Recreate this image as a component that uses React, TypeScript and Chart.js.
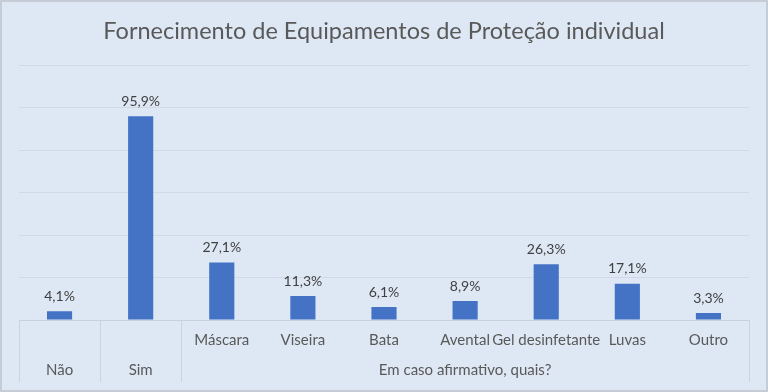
import React, { useEffect, useRef } from "react";
import { Chart, registerables } from "chart.js";

Chart.register(...registerables);

const titleText = "Fornecimento de Equipamentos de Proteção individual";
const categories = ["Não", "Sim", "Máscara", "Viseira", "Bata", "Avental", "Gel desinfetante", "Luvas", "Outro"];
const values = [4.1, 95.9, 27.1, 11.3, 6.1, 8.9, 26.3, 17.1, 3.3];
const subLabels = ["", "", "Máscara", "Viseira", "Bata", "Avental", "Gel desinfetante", "Luvas", "Outro"];
const groupLabels = ["Não", "Sim", "", "", "", "Em caso afirmativo, quais?", "", "", ""];
const groupBoundaries = [0, 1, 2, 9]; // category index boundaries (left edge of index)

const FONT = "Lato, 'Noto Sans', sans-serif";
const TEXT = "#595959";

const bgPlugin = {
  id: "bgPlugin",
  beforeDraw(chart: any) {
    const { ctx, width, height } = chart;
    ctx.save();
    ctx.fillStyle = "#dee8f4";
    ctx.fillRect(0, 0, width, height);
    ctx.strokeStyle = "#c6ccd6";
    ctx.lineWidth = 2;
    ctx.strokeRect(1, 1, width - 2, height - 2);
    ctx.restore();
  },
};

const sepPlugin = {
  id: "sepPlugin",
  afterDraw(chart: any) {
    const { ctx, chartArea } = chart;
    const x = chart.scales.x;
    ctx.save();
    ctx.strokeStyle = "#cbd3de";
    ctx.lineWidth = 1;
    const half = (x.getPixelForValue(1) - x.getPixelForValue(0)) / 2;
    groupBoundaries.forEach((b) => {
      const px = Math.round(x.getPixelForValue(b) - half) + 0.5;
      ctx.beginPath();
      ctx.moveTo(px, chartArea.bottom);
      ctx.lineTo(px, 382);
      ctx.stroke();
    });
    ctx.restore();
  },
};

const labelPlugin = {
  id: "labelPlugin",
  afterDatasetsDraw(chart: any) {
    const { ctx } = chart;
    const meta = chart.getDatasetMeta(0);
    ctx.save();
    ctx.font = `14px ${FONT}`;
    ctx.fillStyle = "#404040";
    ctx.textAlign = "center";
    ctx.textBaseline = "bottom";
    meta.data.forEach((bar: any, i: number) => {
      const v = chart.data.datasets[0].data[i] as number;
      ctx.fillText(v.toFixed(1).replace(".", ",") + "%", bar.x, bar.y - 8);
    });
    ctx.restore();
  },
};

export default function App() {
  const ref = useRef<HTMLCanvasElement>(null);
  useEffect(() => {
    if (!ref.current) return;
    const chart = new Chart(ref.current, {
      type: "bar",
      data: {
        labels: categories,
        datasets: [
          {
            data: values,
            backgroundColor: "#4472c4",
            borderWidth: 0,
            categoryPercentage: 1,
            barPercentage: 0.31,
          },
        ],
      },
      options: {
        animation: false,
        responsive: false,
        maintainAspectRatio: false,
        layout: { padding: { left: 19, right: 19, top: 0, bottom: 0 } },
        plugins: {
          legend: { display: false },
          tooltip: { enabled: false },
          title: {
            display: true,
            text: titleText,
            color: TEXT,
            font: { family: FONT, size: 23.5, weight: "normal" },
            padding: { top: 17, bottom: 20 },
          },
        },
        scales: {
          y: {
            min: 0,
            max: 120,
            ticks: { display: false, stepSize: 20 },
            grid: { color: "#d0d9e5", drawTicks: false, lineWidth: 1 },
            border: { display: false },
          },
          x: {
            position: "bottom",
            offset: true,
            grid: { display: false, drawTicks: false },
            border: { display: true, color: "#c8d0dc" },
            ticks: {
              autoSkip: false,
              maxRotation: 0,
              minRotation: 0,
              padding: 11,
              color: TEXT,
              font: { family: FONT, size: 15 },
              callback: (_v: any, i: number) => subLabels[i],
            },
            afterFit: (s: any) => {
              s.height = 28;
            },
          },
          x2: {
            type: "category",
            position: "bottom",
            labels: groupLabels,
            offset: true,
            grid: { display: false, drawTicks: false },
            border: { display: false },
            ticks: {
              autoSkip: false,
              maxRotation: 0,
              minRotation: 0,
              padding: 13,
              color: TEXT,
              font: { family: FONT, size: 15 },
            },
            afterFit: (s: any) => {
              s.height = 44;
            },
          },
        },
      },
      plugins: [bgPlugin, sepPlugin, labelPlugin],
    });
    return () => chart.destroy();
  }, []);
  return (
    <div style={{ position: "fixed", left: 0, top: 0, width: 768, height: 392 }}>
      <canvas ref={ref} width={768} height={392} style={{ display: "block" }} />
    </div>
  );
}
